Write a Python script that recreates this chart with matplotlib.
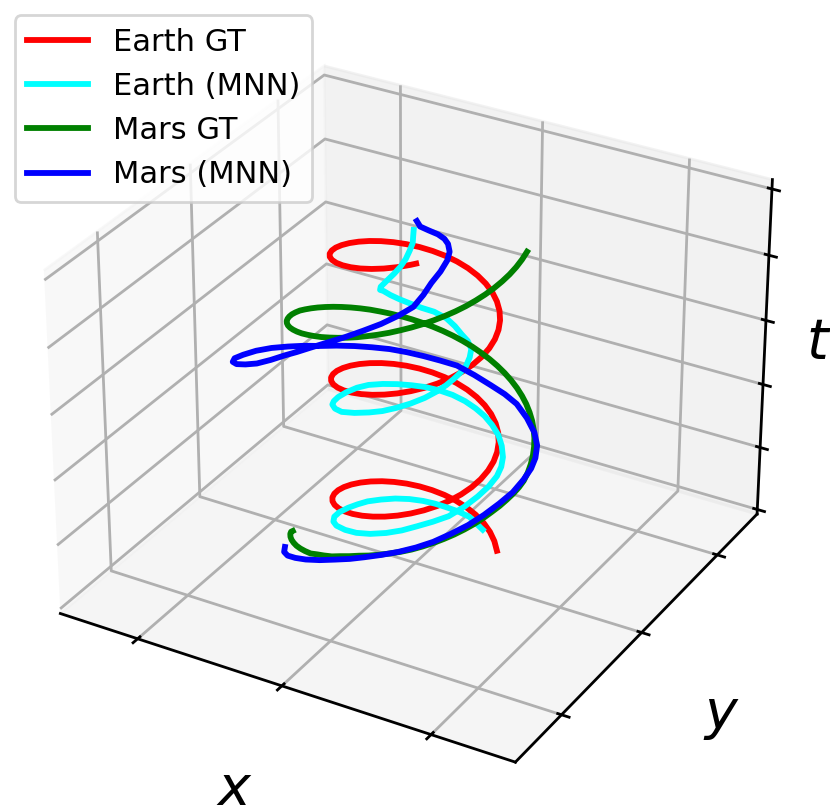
import matplotlib
matplotlib.use("Agg")
import matplotlib.pyplot as plt

# Earth, ground truth
earth_t = [0.025, 0.050, 0.075, 0.100, 0.125, 0.150, 0.175, 0.200, 0.225, 0.250, 0.275, 0.300, 0.325, 0.350, 0.375, 0.400, 0.425, 0.450, 0.475,
           0.500, 0.525, 0.550, 0.575, 0.600, 0.625, 0.650, 0.675, 0.700, 0.725, 0.750, 0.775, 0.800, 0.825, 0.850, 0.875, 0.900, 0.925, 0.950, 0.975,
           1.000, 1.025, 1.050, 1.075, 1.100, 1.125, 1.150, 1.175, 1.200, 1.225, 1.250, 1.275, 1.300, 1.325, 1.350, 1.375, 1.400, 1.425, 1.450, 1.475,
           1.500, 1.525, 1.550, 1.575, 1.600, 1.625, 1.650, 1.675, 1.700, 1.725, 1.750, 1.775, 1.800, 1.825, 1.850, 1.875, 1.900, 1.925, 1.950, 1.975,
           2.000, 2.025, 2.050, 2.075, 2.100, 2.125, 2.150, 2.175, 2.200, 2.225, 2.250, 2.275, 2.300, 2.325, 2.350, 2.375, 2.400, 2.425, 2.450, 2.475,
           2.500, 2.525, 2.550, 2.575, 2.600, 2.625, 2.650, 2.675, 2.700, 2.725, 2.750, 2.760]
earth_x = [0.809, 0.707, 0.588, 0.454, 0.309, 0.156, 0.000, -0.156, -0.309, -0.454, -0.588, -0.707, -0.809, -0.891, -0.951, -0.988, -1.000, -0.988, -0.951,
           -0.891, -0.809, -0.707, -0.588, -0.454, -0.309, -0.156, 0.000, 0.156, 0.309, 0.454, 0.588, 0.707, 0.809, 0.891, 0.951, 0.988, 1.000, 0.988, 0.951,
           0.891, 0.809, 0.707, 0.588, 0.454, 0.309, 0.156, 0.000, -0.156, -0.309, -0.454, -0.588, -0.707, -0.809, -0.891, -0.951, -0.988, -1.000, -0.988, -0.951,
           -0.891, -0.809, -0.707, -0.588, -0.454, -0.309, -0.156, 0.000, 0.156, 0.309, 0.454, 0.588, 0.707, 0.809, 0.891, 0.951, 0.988, 1.000, 0.988, 0.951,
           0.891, 0.809, 0.707, 0.588, 0.454, 0.309, 0.156, 0.000, -0.156, -0.309, -0.454, -0.588, -0.707, -0.809, -0.891, -0.951, -0.988, -1.000, -0.988, -0.951,
           -0.891, -0.809, -0.707, -0.588, -0.454, -0.309, -0.156, 0.000, 0.156, 0.309, 0.454, 0.510]
earth_y = [0.588, 0.707, 0.809, 0.891, 0.951, 0.988, 1.000, 0.988, 0.951, 0.891, 0.809, 0.707, 0.588, 0.454, 0.309, 0.156, 0.000, -0.156, -0.309,
           -0.454, -0.588, -0.707, -0.809, -0.891, -0.951, -0.988, -1.000, -0.988, -0.951, -0.891, -0.809, -0.707, -0.588, -0.454, -0.309, -0.156, 0.000, 0.156, 0.309,
           0.454, 0.588, 0.707, 0.809, 0.891, 0.951, 0.988, 1.000, 0.988, 0.951, 0.891, 0.809, 0.707, 0.588, 0.454, 0.309, 0.156, 0.000, -0.156, -0.309,
           -0.454, -0.588, -0.707, -0.809, -0.891, -0.951, -0.988, -1.000, -0.988, -0.951, -0.891, -0.809, -0.707, -0.588, -0.454, -0.309, -0.156, 0.000, 0.156, 0.309,
           0.454, 0.588, 0.707, 0.809, 0.891, 0.951, 0.988, 1.000, 0.988, 0.951, 0.891, 0.809, 0.707, 0.588, 0.454, 0.309, 0.156, 0.000, -0.156, -0.309,
           -0.454, -0.588, -0.707, -0.809, -0.891, -0.951, -0.988, -1.000, -0.988, -0.951, -0.891, -0.860]

# Earth, network output
earth_nn_t = [0.10, 0.115, 0.15, 0.185, 0.22, 0.255, 0.29, 0.33, 0.37, 0.405,
              0.44, 0.475, 0.51, 0.545, 0.58, 0.61, 0.64, 0.67, 0.70, 0.735,
              0.77, 0.80, 0.83, 0.86, 0.89, 0.925, 0.96, 0.99, 1.02, 1.05,
              1.08, 1.11, 1.14, 1.175, 1.21, 1.24, 1.27, 1.30, 1.33, 1.36,
              1.39, 1.425, 1.46, 1.49, 1.52, 1.55, 1.58, 1.61, 1.64, 1.67,
              1.70, 1.73, 1.76, 1.79, 1.82, 1.85, 1.88, 1.905, 1.93, 1.955,
              1.98, 1.995, 2.01, 2.045, 2.08, 2.12, 2.15, 2.19, 2.23, 2.27,
              2.30, 2.34, 2.38, 2.42, 2.46, 2.48, 2.51, 2.55, 2.59, 2.63,
              2.67, 2.71, 2.75, 2.80, 2.84]
earth_nn_x = [0.52, 0.45, 0.30, 0.16, 0.03, -0.08, -0.19, -0.30, -0.40, -0.49,
              -0.56, -0.58, -0.59, -0.58, -0.53, -0.44, -0.32, -0.14, 0.05, 0.25,
              0.45, 0.62, 0.77, 0.92, 1.06, 1.16, 1.23, 1.27, 1.28, 1.26,
              1.21, 1.11, 0.99, 0.86, 0.73, 0.59, 0.44, 0.28, 0.13, -0.01,
              -0.13, -0.24, -0.34, -0.43, -0.47, -0.48, -0.46, -0.41, -0.34, -0.22,
              -0.07, 0.115, 0.30, 0.46, 0.60, 0.74, 0.86, 0.94, 1.00, 1.04,
              1.07, 1.09, 1.09, 1.08, 1.05, 0.98, 0.89, 0.78, 0.66, 0.52,
              0.39, 0.28, 0.19, 0.11, 0.05, 0.035, 0.05, 0.10, 0.15, 0.19,
              0.21, 0.21, 0.21, 0.205, 0.20]
earth_nn_y = [0.75, 0.77, 0.81, 0.77, 0.70, 0.62, 0.52, 0.38, 0.21, 0.02,
              -0.18, -0.38, -0.59, -0.81, -1.01, -1.18, -1.31, -1.41, -1.47, -1.49,
              -1.46, -1.39, -1.29, -1.18, -1.05, -0.86, -0.66, -0.47, -0.29, -0.15,
              -0.02, 0.13, 0.26, 0.34, 0.39, 0.42, 0.43, 0.41, 0.35, 0.26,
              0.14, -0.01, -0.18, -0.36, -0.56, -0.79, -1.01, -1.19, -1.34, -1.48,
              -1.58, -1.60, -1.58, -1.55, -1.49, -1.39, -1.27, -1.145, -1.02, -0.91,
              -0.81, -0.76, -0.71, -0.61, -0.52, -0.48, -0.46, -0.43, -0.42, -0.46,
              -0.53, -0.61, -0.69, -0.76, -0.82, -0.87, -0.88, -0.83, -0.75, -0.67,
              -0.58, -0.49, -0.42, -0.40, -0.38]

# Mars, ground truth
mars_t = [0.130, 0.170, 0.200, 0.222, 0.245, 0.266, 0.286, 0.307, 0.328, 0.348, 0.379, 0.405, 0.430, 0.461, 0.487, 0.513, 0.533, 0.554,
          0.575, 0.595, 0.616, 0.639, 0.662, 0.685, 0.708, 0.731, 0.754, 0.777, 0.800, 0.818, 0.836, 0.849, 0.862, 0.875, 0.899, 0.926,
          0.953, 0.980, 1.007, 1.034, 1.062, 1.089, 1.116, 1.143, 1.170, 1.197, 1.224, 1.251, 1.278, 1.305, 1.333, 1.360, 1.387, 1.414,
          1.441, 1.468, 1.495, 1.522, 1.549, 1.576, 1.604, 1.631, 1.658, 1.685, 1.712, 1.739, 1.766, 1.793, 1.820, 1.848, 1.872, 1.897,
          1.921, 1.945, 1.970, 1.994, 2.018, 2.042, 2.067, 2.091, 2.115, 2.140, 2.164, 2.188, 2.213, 2.237, 2.261, 2.285, 2.310, 2.334,
          2.358, 2.383, 2.407, 2.431, 2.456, 2.480, 2.504, 2.528, 2.553, 2.577, 2.601, 2.626, 2.650, 2.674, 2.699, 2.723]
mars_x = [-1.431, -1.382, -1.323, -1.254, -1.176, -1.089, -0.995, -0.893, -0.785, -0.671, -0.553, -0.430, -0.305, -0.178, -0.050, 0.078, 0.205, 0.330,
          0.453, 0.571, 0.685, 0.793, 0.895, 0.989, 1.076, 1.154, 1.223, 1.282, 1.331, 1.370, 1.398, 1.414, 1.420, 1.414, 1.398, 1.370,
          1.331, 1.282, 1.223, 1.154, 1.076, 0.989, 0.895, 0.793, 0.685, 0.571, 0.453, 0.330, 0.205, 0.078, -0.050, -0.178, -0.305, -0.430,
          -0.553, -0.671, -0.785, -0.893, -0.995, -1.089, -1.176, -1.254, -1.323, -1.382, -1.431, -1.470, -1.498, -1.514, -1.520, -1.514, -1.498, -1.470,
          -1.431, -1.382, -1.323, -1.254, -1.176, -1.089, -0.995, -0.893, -0.785, -0.671, -0.553, -0.430, -0.305, -0.178, -0.050, 0.078, 0.205, 0.330,
          0.453, 0.571, 0.685, 0.793, 0.895, 0.989, 1.076, 1.154, 1.223, 1.282, 1.331, 1.370, 1.398, 1.414, 1.420, 1.414]
mars_y = [-0.503, -0.621, -0.735, -0.843, -0.945, -1.039, -1.126, -1.204, -1.273, -1.332, -1.381, -1.420, -1.448, -1.464, -1.470, -1.464, -1.448, -1.420,
          -1.381, -1.332, -1.273, -1.204, -1.126, -1.039, -0.945, -0.843, -0.735, -0.621, -0.503, -0.380, -0.255, -0.128, 0.000, 0.128, 0.255, 0.380,
          0.503, 0.621, 0.735, 0.843, 0.945, 1.039, 1.126, 1.204, 1.273, 1.332, 1.381, 1.420, 1.448, 1.464, 1.470, 1.464, 1.448, 1.420,
          1.381, 1.332, 1.273, 1.204, 1.126, 1.039, 0.945, 0.843, 0.735, 0.621, 0.503, 0.380, 0.255, 0.128, 0.000, -0.128, -0.255, -0.380,
          -0.503, -0.621, -0.735, -0.843, -0.945, -1.039, -1.126, -1.204, -1.273, -1.332, -1.381, -1.420, -1.448, -1.464, -1.470, -1.464, -1.448, -1.420,
          -1.381, -1.332, -1.273, -1.204, -1.126, -1.039, -0.945, -0.843, -0.735, -0.621, -0.503, -0.380, -0.255, -0.128, 0.000, 0.128]

# Mars, network output
mars_nn_t = [0.11, 0.145, 0.18, 0.225, 0.27, 0.315, 0.36, 0.395, 0.43, 0.465,
             0.50, 0.535, 0.57, 0.615, 0.66, 0.705, 0.75, 0.785, 0.83, 0.88,
             0.92, 0.96, 1.00, 1.055, 1.12, 1.185, 1.25, 1.315, 1.38, 1.425,
             1.47, 1.51, 1.55, 1.59, 1.63, 1.67, 1.71, 1.75, 1.79, 1.835,
             1.88, 1.925, 1.97, 1.985, 2.00, 2.03, 2.06, 2.095, 2.13, 2.16,
             2.19, 2.22, 2.25, 2.285, 2.32, 2.36, 2.40, 2.455, 2.51, 2.56,
             2.61, 2.65, 2.69, 2.715, 2.74, 2.77, 2.80, 2.82, 2.84]
mars_nn_x = [-1.35, -1.25, -1.12, -0.95, -0.76, -0.545, -0.33, -0.14, 0.04, 0.23,
             0.42, 0.60, 0.76, 0.91, 1.05, 1.16, 1.25, 1.31, 1.34, 1.36,
             1.34, 1.27, 1.15, 0.98, 0.80, 0.65, 0.49, 0.29, 0.09, -0.08,
             -0.24, -0.40, -0.56, -0.705, -0.84, -0.97, -1.08, -1.18, -1.27, -1.35,
             -1.40, -1.41, -1.38, -1.33, -1.24, -1.10, -0.95, -0.80, -0.66, -0.535,
             -0.41, -0.26, -0.10, 0.06, 0.21, 0.345, 0.45, 0.49, 0.51, 0.54,
             0.55, 0.53, 0.48, 0.42, 0.34, 0.24, 0.16, 0.14, 0.12]
mars_nn_y = [-0.82, -1.00, -1.13, -1.23, -1.30, -1.33, -1.33, -1.31, -1.27, -1.21,
             -1.13, -1.02, -0.89, -0.74, -0.57, -0.38, -0.17, 0.05, 0.26, 0.41,
             0.55, 0.72, 0.87, 0.99, 1.06, 1.03, 0.97, 0.92, 0.85, 0.74,
             0.62, 0.50, 0.36, 0.19, 0.01, -0.19, -0.40, -0.59, -0.80, -1.04,
             -1.30, -1.57, -1.80, -1.92, -1.98, -2.01, -2.00, -1.935, -1.85, -1.79,
             -1.71, -1.59, -1.45, -1.30, -1.15, -0.985, -0.82, -0.66, -0.51, -0.35,
             -0.21, -0.12, -0.07, -0.05, -0.06, -0.11, -0.16, -0.165, -0.17]

xy_ticks = [-2, 0, 2]
t_ticks = [0.0, 0.535, 1.07, 1.605, 2.14, 2.675]

plt.rcParams["grid.linewidth"] = 1.0
plt.rcParams["axes.linewidth"] = 1.0
plt.rcParams["xtick.major.width"] = 1.0
plt.rcParams["ytick.major.width"] = 1.0

fig = plt.figure(figsize=(4.15, 4.05), dpi=200)
ax = fig.add_axes([-0.063, -0.004, 1.10, 1.0], projection="3d")

line_opts = {"lw": 2.1, "solid_joinstyle": "round"}
ax.plot(earth_x, earth_y, earth_t, color="red", label="Earth GT", **line_opts)
ax.plot(earth_nn_x, earth_nn_y, earth_nn_t, color="cyan", label="Earth (MNN)", **line_opts)
ax.plot(mars_x, mars_y, mars_t, color="green", label="Mars GT", **line_opts)
ax.plot(mars_nn_x, mars_nn_y, mars_nn_t, color="blue", label="Mars (MNN)", **line_opts)

ax.set_xlim(-3.1, 3.1)
ax.set_ylim(-3.1, 3.1)
ax.set_zlim(-0.04, 2.75)
ax.set_xticks(xy_ticks)
ax.set_yticks(xy_ticks)
ax.set_zticks(t_ticks)
ax.set_xticklabels([])
ax.set_yticklabels([])
ax.set_zticklabels([])
ax.set_xlabel("$x$", fontsize=20, labelpad=5.5)
ax.set_ylabel("$y$", fontsize=20, labelpad=5.5)
ax.zaxis.set_rotate_label(False)
ax.set_zlabel("$t$", fontsize=20, labelpad=-9, rotation=0)

fig.legend(loc="upper left", bbox_to_anchor=(0.018, 0.981), borderaxespad=0, fontsize=11)

fig.savefig("out.png", dpi=200)
